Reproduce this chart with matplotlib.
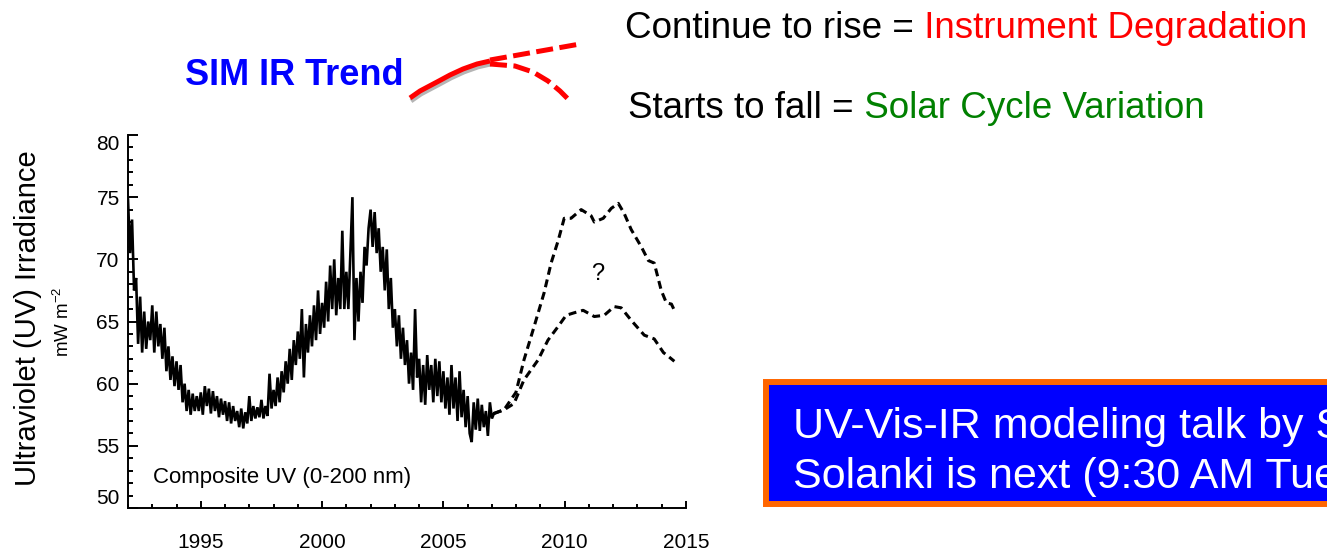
import numpy as np
import matplotlib
matplotlib.use("Agg")
import matplotlib.pyplot as plt
from matplotlib.patches import Rectangle
from matplotlib.ticker import MultipleLocator

plt.rcParams['font.family'] = ['Liberation Sans', 'DejaVu Sans']
plt.rcParams['mathtext.fontset'] = 'custom'
plt.rcParams['mathtext.rm'] = 'Liberation Sans'
plt.rcParams['mathtext.it'] = 'Liberation Sans'

# Composite UV (0-200 nm), monthly samples from 1992.0 (mW m^-2)
uv_composite = [
    74.8, 70.5, 73.2, 67.5, 68.5, 63.2, 67.0, 62.5, 65.8, 62.8, 65.0, 63.5,   # 1992
    66.3, 62.5, 65.8, 63.0, 64.8, 62.0, 64.5, 61.0, 63.0, 60.3, 62.2, 59.8,   # 1993
    61.8, 59.5, 61.5, 58.5, 60.0, 57.8, 59.5, 57.5, 59.2, 57.8, 59.0, 57.8,   # 1994
    59.3, 57.5, 59.8, 58.2, 59.6, 57.6, 59.4, 57.8, 59.0, 57.3, 58.8, 57.5,   # 1995
    58.6, 57.0, 58.5, 56.8, 58.2, 57.0, 57.8, 56.5, 58.0, 56.4, 57.7, 56.8,   # 1996
    59.0, 57.0, 58.2, 57.2, 58.1, 57.3, 58.7, 57.2, 58.2, 57.4, 60.8, 58.0,   # 1997
    59.5, 58.2, 60.5, 58.5, 61.0, 59.3, 61.8, 60.0, 62.8, 60.3, 63.5, 61.5,   # 1998
    64.2, 62.0, 66.0, 60.5, 64.8, 62.5, 65.5, 63.0, 66.3, 63.5, 67.5, 64.0,   # 1999
    66.5, 64.5, 68.2, 65.0, 69.5, 66.0, 70.0, 65.5, 68.5, 66.0, 72.3, 66.0,   # 2000
    69.0, 66.0, 70.5, 75.0, 63.5, 68.5, 65.0, 69.0, 66.5, 71.0, 69.5, 72.5,   # 2001
    74.0, 71.0, 73.8, 70.5, 72.5, 69.0, 71.0, 67.5, 70.8, 66.0, 68.5, 64.5,   # 2002
    66.0, 63.0, 65.5, 62.0, 64.5, 61.5, 63.5, 60.0, 62.5, 59.5, 66.0, 60.5,   # 2003
    62.0, 58.5, 61.5, 58.3, 62.3, 59.5, 61.5, 58.5, 62.0, 59.0, 61.8, 58.5,   # 2004
    61.0, 58.0, 60.5, 57.5, 61.5, 58.0, 60.5, 57.0, 61.0, 57.3, 59.5, 56.5,   # 2005
    59.0, 56.0, 55.3, 58.5, 56.3, 58.8, 56.2, 58.3, 56.5, 57.8, 55.8, 58.5,   # 2006
    57.2, 57.6,                                                               # 2007
]
uv_years = 1992.0 + np.arange(len(uv_composite)) / 12.0

# Projected cycle 24 scenarios
upper_years = [2007.08, 2007.50, 2007.99, 2008.32, 2008.74, 2009.15, 2009.44,
               2009.73, 2009.98, 2010.26, 2010.68, 2011.09, 2011.22, 2011.59,
               2011.92, 2012.21, 2012.45, 2012.74, 2013.16, 2013.45, 2013.69,
               2013.98, 2014.19, 2014.40, 2014.52]
upper_uv = [57.6, 57.9, 59.3, 61.9, 64.6, 67.3, 69.7, 71.5, 73.3, 73.3, 74.0,
            73.5, 73.0, 73.3, 74.1, 74.5, 73.7, 72.4, 71.0, 69.9, 69.7, 67.5,
            66.5, 66.4, 65.9]
lower_years = [2007.08, 2007.50, 2007.91, 2008.32, 2008.90, 2009.31, 2009.73,
               2010.06, 2010.39, 2010.76, 2011.22, 2011.63, 2012.04, 2012.33,
               2012.74, 2013.28, 2013.69, 2014.07, 2014.27, 2014.52]
lower_uv = [57.6, 57.9, 58.4, 60.3, 61.9, 63.5, 64.6, 65.5, 65.7, 65.9, 65.4,
            65.5, 66.2, 66.1, 65.1, 63.9, 63.6, 62.5, 62.2, 61.8]

# SIM IR trend sketch (overlay coordinates, y downward)
trend_x = [410, 420, 437, 450, 463, 477, 490]
trend_y = [98, 91, 82, 75, 69, 64, 61]
rise_x = [490, 535, 580]
rise_y = [60, 52, 44]
fall_x = [490, 515, 533, 548, 560, 571]
fall_y = [64, 66, 72, 81, 91, 102]

xticks = [1995, 2000, 2005, 2010, 2015]
yticks = [50, 55, 60, 65, 70, 75, 80]

W, H = 1327, 551
fig = plt.figure(figsize=(W / 100, H / 100), dpi=100)
fig.patch.set_facecolor('white')

ax = fig.add_axes([128 / W, 1 - 508 / H, (686 - 128) / W, (508 - 135) / H])
ax.plot(uv_years, uv_composite, color='black', lw=1.9, solid_joinstyle='miter')
ax.plot(upper_years, upper_uv, color='black', lw=2.2, dashes=(2.6, 1.6))
ax.plot(lower_years, lower_uv, color='black', lw=2.2, dashes=(2.6, 1.6))

ax.set_xlim(1992, 2015)
ax.set_ylim(50, 80)
ax.set_xticks(xticks)
ax.set_yticks(yticks)
ax.xaxis.set_minor_locator(MultipleLocator(1))
ax.yaxis.set_minor_locator(MultipleLocator(1))
for s in ('top', 'right'):
    ax.spines[s].set_visible(False)
for s in ('left', 'bottom'):
    ax.spines[s].set_linewidth(1.4)
ax.tick_params(axis='x', which='major', direction='in', length=5, width=1.4,
               labelsize=15, pad=18)
ax.tick_params(axis='x', which='minor', direction='in', length=2.6, width=1.4)
ax.tick_params(axis='y', which='major', direction='in', length=7.5, width=1.4,
               labelsize=15, pad=6)
ax.tick_params(axis='y', which='minor', direction='in', length=3.8, width=1.4)
ylabs = ax.get_yticklabels()
ylabs[0].set_va('bottom')
ylabs[-1].set_va('top')

ax.text(2011.34, 68.8, '?', fontsize=17, ha='center', va='center')
ax.text(0.045, 0.068, 'Composite UV (0-200 nm)', transform=ax.transAxes,
        fontsize=16, ha='left', va='baseline')

fig.text(28 / W, 1 - 318 / H, 'Ultraviolet (UV) Irradiance', rotation=90,
         fontsize=21, ha='center', va='center')
fig.text(63 / W, 1 - 322 / H, r'mW m$^{-2}$', rotation=90,
         fontsize=13.5, ha='center', va='center')

# Overlay in pixel coordinates for the slide annotations
ov = fig.add_axes([0, 0, 1, 1], facecolor='none')
ov.set_xlim(0, W)
ov.set_ylim(H, 0)
ov.axis('off')

ov.plot(np.array(trend_x) + 1, np.array(trend_y) + 3, color='#b5b5b5', lw=3.4,
        solid_capstyle='butt')
ov.plot(trend_x, trend_y, color='#ff0000', lw=3.6, solid_capstyle='butt')
ov.plot(rise_x, rise_y, color='#ff0000', lw=3.6, dashes=(3.4, 1.3))
ov.plot(fall_x, fall_y, color='#ff0000', lw=3.6, dashes=(3.4, 1.3))

ov.text(185, 85, 'SIM IR Trend', color='#0000ff', fontsize=26, fontweight='bold',
        ha='left', va='baseline')

t1 = ov.text(625, 38, 'Continue to rise =', fontsize=26.5, ha='left', va='baseline')
ov.annotate(' Instrument Degradation', xy=(1, 0), xycoords=t1, color='#ff0000',
            fontsize=26.5, ha='left', va='bottom')
t2 = ov.text(628, 118, 'Starts to fall =', fontsize=26.5, ha='left', va='baseline')
ov.annotate(' Solar Cycle Variation', xy=(1, 0), xycoords=t2, color='#008000',
            fontsize=26.5, ha='left', va='bottom')

box = Rectangle((766, 382), 620, 122, facecolor='#0000ff', edgecolor='#ff6600',
                lw=4.3, clip_on=False)
ov.add_patch(box)
ov.text(793, 438, 'UV-Vis-IR modeling talk by Sami', color='white', fontsize=31,
        ha='left', va='baseline')
ov.text(793, 488, 'Solanki is next (9:30 AM Tuesday)', color='white', fontsize=31,
        ha='left', va='baseline')

fig.savefig('out.png', dpi=100, facecolor='white')
